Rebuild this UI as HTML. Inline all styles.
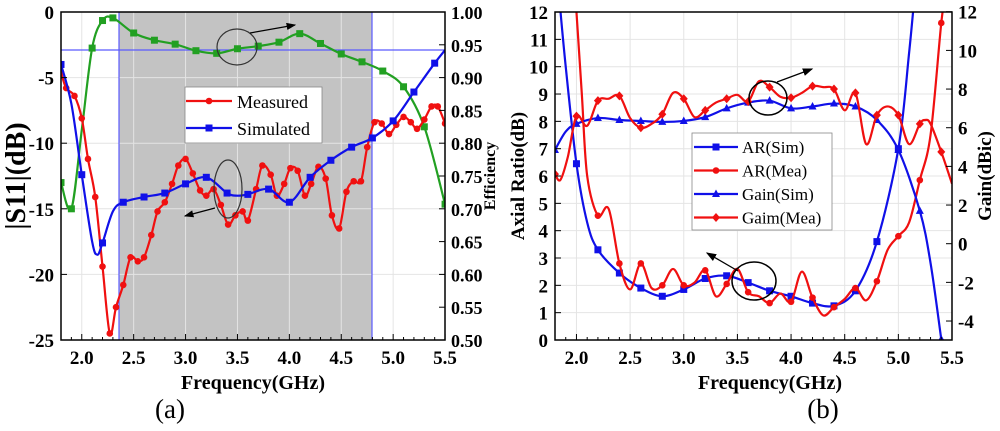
<!DOCTYPE html>
<html><head><meta charset="utf-8"><style>
html,body{margin:0;padding:0;background:#fff}
svg{display:block}
text{font-family:"Liberation Serif",serif}
</style></head><body>
<svg id="s" width="1000" height="431" viewBox="0 0 1000 431" xmlns="http://www.w3.org/2000/svg">
<defs>
<clipPath id="cl"><rect x="61" y="12" width="384" height="328"/></clipPath>
<clipPath id="cr"><rect x="555" y="12" width="397" height="328"/></clipPath>
<marker id="ah" markerWidth="8" markerHeight="6" refX="7" refY="3" orient="auto"><path d="M0,0L8,3L0,6z" fill="#000"/></marker>
</defs>
<g id="g"></g>
</svg>
<script>
var NS="http://www.w3.org/2000/svg",G=document.getElementById('g');
function el(t,a,p,txt){var e=document.createElementNS(NS,t);for(var k in a)e.setAttribute(k,a[k]);if(txt!=null)e.textContent=txt;(p||G).appendChild(e);return e;}
function smooth(P){var d="M"+P[0][0]+","+P[0][1];for(var i=0;i<P.length-1;i++){var p0=P[i-1]||P[i],p1=P[i],p2=P[i+1],p3=P[i+2]||p2;var c1x=p1[0]+(p2[0]-p0[0])/6,c1y=p1[1]+(p2[1]-p0[1])/6,c2x=p2[0]-(p3[0]-p1[0])/6,c2y=p2[1]-(p3[1]-p1[1])/6;d+="C"+c1x+","+c1y+" "+c2x+","+c2y+" "+p2[0]+","+p2[1];}return d;}
function mark(type,x,y,c,g){if(type=='sq')el('rect',{x:x-3.5,y:y-3.5,width:7,height:7,fill:c},g);else if(type=='ci')el('circle',{cx:x,cy:y,r:3.3,fill:c},g);else if(type=='tr')el('path',{d:'M'+x+','+(y-4.5)+'L'+(x+4)+','+(y+3)+'L'+(x-4)+','+(y+3)+'z',fill:c},g);else el('path',{d:'M'+x+','+(y-4.5)+'L'+(x+4)+','+y+'L'+x+','+(y+4.5)+'L'+(x-4)+','+y+'z',fill:c},g);}
function series(data,fx,fy,c,m,clip,every){var g=el('g',{'clip-path':'url(#'+clip+')'});var P=data.map(function(d){return[fx(d[0]),fy(d[1])]});el('path',{d:smooth(P),fill:'none',stroke:c,'stroke-width':2.2},g);P.forEach(function(p,i){if(!every||every(data[i][0]))mark(m,p[0],p[1],c,g);});}
function tx(x,y,s,size,anchor,bold,rot){var a={x:x,y:y,'font-size':size,'text-anchor':anchor||'middle','font-weight':bold?'bold':'normal',fill:'#000'};if(rot)a.transform='rotate(-90 '+x+' '+y+')';el('text',a,null,s);}
function ev(f){var k=Math.round(f*10);return Math.abs(f*10-k)<0.01&&k%2==0;}

/* ---------- LEFT ---------- */
var LX=function(f){return 61+(f-1.8)*103.8},LY=function(v){return 12-v*13.12},LE=function(e){return 12+(1-e)*656};
el('rect',{x:119,y:12,width:253,height:328,fill:'#c3c3c3'});
for(var f=2;f<=5.5;f+=0.5){el('line',{x1:LX(f),x2:LX(f),y1:12,y2:340,stroke:'#e4e4e4','stroke-width':1});}
for(var v=-5;v>=-20;v-=5){el('line',{x1:61,x2:445,y1:LY(v),y2:LY(v),stroke:'#e4e4e4','stroke-width':1});}
el('line',{x1:119,x2:119,y1:12,y2:340,stroke:'#5a5aff','stroke-width':1.2});
el('line',{x1:372,x2:372,y1:12,y2:340,stroke:'#5a5aff','stroke-width':1.2});
el('line',{x1:61,x2:445,y1:50,y2:50,stroke:'#5a5aff','stroke-width':1.2});
var green=[[1.8,.74],[1.9,.70],[2.0,.82],[2.1,.945],[2.2,.987],[2.3,.991],[2.5,.968],[2.7,.957],[2.9,.951],[3.1,.941],[3.3,.937],[3.5,.944],[3.7,.948],[3.9,.954],[4.1,.967],[4.3,.952],[4.5,.936],[4.7,.924],[4.9,.910],[5.1,.886],[5.3,.825],[5.5,.707]];
series(green,LX,LE,'#22a022','sq','cl',function(f){return Math.abs(f-2.0)>0.01});
var meas=[[1.8,-4.6],[1.85,-5.8],[1.93,-6.4],[2.0,-8.1],[2.06,-11.2],[2.13,-14.1],[2.2,-19.4],[2.27,-24.5],[2.33,-22.5],[2.4,-20.8],[2.47,-18.7],[2.54,-19],[2.6,-18.7],[2.67,-17],[2.73,-15.2],[2.8,-14.5],[2.87,-13.1],[2.93,-11.7],[3.0,-11.2],[3.07,-12.3],[3.14,-13.6],[3.2,-14],[3.27,-13.5],[3.34,-14.7],[3.41,-16.2],[3.48,-15.5],[3.55,-15.2],[3.6,-15.9],[3.68,-13.5],[3.74,-11.7],[3.82,-12.4],[3.88,-14],[3.95,-13.1],[4.01,-11.9],[4.08,-12.1],[4.15,-14],[4.21,-13.1],[4.28,-11.8],[4.35,-12.7],[4.41,-15.5],[4.48,-16.5],[4.55,-13.7],[4.62,-12.9],[4.69,-12.9],[4.75,-10.3],[4.82,-8.4],[4.89,-8.5],[4.96,-9.3],[5.03,-8.6],[5.1,-8],[5.17,-8.4],[5.23,-8.9],[5.3,-8.2],[5.37,-7.2],[5.43,-7.2],[5.5,-8.5]];
series(meas,LX,LY,'#f01010','ci','cl');
var sim=[[1.8,-4],[1.9,-7],[2.0,-12.4],[2.1,-17.5],[2.15,-18.5],[2.2,-17.6],[2.3,-15.2],[2.4,-14.5],[2.6,-14.1],[2.8,-13.8],[3.0,-13.1],[3.2,-12.6],[3.4,-13.8],[3.5,-14],[3.6,-13.9],[3.8,-13.5],[4.0,-14.5],[4.2,-12.6],[4.4,-11.3],[4.6,-10.3],[4.8,-9.6],[5.0,-8.3],[5.2,-6.1],[5.4,-3.9],[5.5,-2.9]];
series(sim,LX,LY,'#1010e8','sq','cl',ev);
el('rect',{x:61,y:12,width:384,height:328,fill:'none',stroke:'#000','stroke-width':1.5});
for(var f=1.8;f<=5.51;f+=0.1){var x=LX(f),maj=Math.abs(f*2-Math.round(f*2))<0.01;el('line',{x1:x,x2:x,y1:340,y2:340-(maj?6:3),stroke:'#000'});}
[2,2.5,3,3.5,4,4.5,5,5.5].forEach(function(f){tx(LX(f),364,f.toFixed(1),19,'middle',true);});
[0,-5,-10,-15,-20,-25].forEach(function(v){tx(54,LY(v)+7,v,19,'end',true);el('line',{x1:61,x2:67,y1:LY(v),y2:LY(v),stroke:'#000'});});
for(var e=0.5;e<=1.001;e+=0.05){tx(451,LE(e)+7,e.toFixed(2),18,'start',true);el('line',{x1:439,x2:445,y1:LE(e),y2:LE(e),stroke:'#000'});}
tx(25,176,'|S11|(dB)',28,'middle',true,true);
tx(495,176,'Efficiency',16,'middle',true,true);
tx(253,389,'Frequency(GHz)',20,'middle',true);
tx(170,418,'(a)',27,'middle',false);
el('rect',{x:185,y:87,width:137,height:56,fill:'#fff',stroke:'#888','stroke-width':0.8});
el('line',{x1:186,x2:232,y1:101,y2:101,stroke:'#f01010','stroke-width':2.2});mark('ci',209,101,'#f01010');
el('line',{x1:186,x2:232,y1:128,y2:128,stroke:'#1010e8','stroke-width':2.2});mark('sq',209,128,'#1010e8');
tx(237,108,'Measured',18,'start');tx(237,135,'Simulated',18,'start');
el('ellipse',{cx:237,cy:47,rx:20,ry:18,fill:'none',stroke:'#333','stroke-width':1.2});
el('line',{x1:250,y1:33,x2:295,y2:25,stroke:'#000','stroke-width':1.2,'marker-end':'url(#ah)'});
el('ellipse',{cx:228,cy:189,rx:14,ry:29,fill:'none',stroke:'#333','stroke-width':1.2});
el('line',{x1:215,y1:208,x2:185,y2:216,stroke:'#000','stroke-width':1.2,'marker-end':'url(#ah)'});

/* ---------- RIGHT ---------- */
var RX=function(f){return 555+(f-1.8)*107.3},RY=function(v){return 340-v*27.33},RG=function(g){return 243.7-g*19.33};
for(var f=2;f<=5.5;f+=0.5){el('line',{x1:RX(f),x2:RX(f),y1:12,y2:340,stroke:'#e4e4e4'});}
for(var v=1;v<12;v++){el('line',{x1:555,x2:952,y1:RY(v),y2:RY(v),stroke:'#e4e4e4'});}
var ars=[[1.84,12.5],[1.9,10],[2.0,6.45],[2.1,4.3],[2.2,3.3],[2.4,2.45],[2.6,1.9],[2.8,1.6],[3.0,1.85],[3.2,2.25],[3.4,2.35],[3.6,2.1],[3.8,1.8],[4.0,1.6],[4.2,1.35],[4.4,1.25],[4.6,1.8],[4.8,3.6],[5.0,7.0],[5.1,10.5],[5.16,13]];
series(ars,RX,RY,'#1010e8','sq','cr',function(f){return ev(f)&&f<5.05});
var arm=[[1.98,13],[2.0,12],[2.05,9],[2.1,6],[2.2,4.55],[2.3,4.8],[2.4,2.8],[2.5,1.85],[2.6,2.8],[2.7,1.9],[2.8,2.0],[2.9,2.6],[3.0,2.0],[3.1,2.1],[3.2,2.55],[3.3,1.6],[3.4,2.05],[3.5,2.6],[3.6,1.75],[3.7,1.6],[3.8,1.35],[3.9,1.7],[4.0,1.4],[4.1,2.5],[4.2,1.55],[4.3,0.9],[4.4,1.2],[4.5,1.5],[4.6,1.9],[4.7,1.45],[4.8,2.15],[4.9,3.3],[5.0,3.8],[5.1,4.3],[5.2,5.85],[5.3,7.5],[5.4,11.6],[5.45,13]];
series(arm,RX,RY,'#f01010','ci','cr',function(f){return ev(f)&&f>2.15});
var gs=[[1.8,4.85],[1.9,5.8],[2.0,6.2],[2.2,6.5],[2.4,6.4],[2.6,6.35],[2.8,6.3],[3.0,6.35],[3.2,6.55],[3.4,7.0],[3.6,7.3],[3.8,7.4],[4.0,7.0],[4.2,7.1],[4.4,7.25],[4.6,7.1],[4.8,6.4],[5.0,4.85],[5.2,1.7],[5.3,-1],[5.4,-4.95],[5.45,-7]];
series(gs,RX,RG,'#1010e8','tr','cr',function(f){return ev(f)&&f<5.41});
var gm=[[1.8,3.6],[1.85,3.3],[1.92,4.5],[2.0,6.6],[2.1,6.1],[2.2,7.4],[2.3,7.5],[2.4,7.65],[2.5,6.5],[2.6,6.0],[2.7,6.2],[2.8,6.7],[2.9,7.8],[3.0,7.5],[3.1,6.55],[3.2,6.9],[3.3,7.3],[3.4,7.5],[3.5,7.7],[3.6,7.35],[3.7,8.4],[3.8,8.1],[3.9,7.6],[4.0,7.55],[4.1,7.8],[4.2,8.15],[4.3,8.1],[4.4,8.0],[4.5,6.9],[4.6,7.8],[4.7,5.15],[4.8,6.65],[4.9,7.1],[5.0,6.65],[5.1,5.15],[5.2,6.2],[5.25,6.4],[5.3,6.2],[5.4,4.75],[5.5,3.1]];
series(gm,RX,RG,'#f01010','di','cr',ev);
el('rect',{x:555,y:12,width:397,height:328,fill:'none',stroke:'#000','stroke-width':1.5});
for(var f=1.8;f<=5.51;f+=0.1){var x=RX(f),maj=Math.abs(f*2-Math.round(f*2))<0.01;el('line',{x1:x,x2:x,y1:340,y2:340-(maj?6:3),stroke:'#000'});}
[2,2.5,3,3.5,4,4.5,5,5.5].forEach(function(f){tx(RX(f),364,f.toFixed(1),19,'middle',true);});
for(var v=0;v<=12;v++){tx(548,RY(v)+7,v,19,'end',true);el('line',{x1:555,x2:561,y1:RY(v),y2:RY(v),stroke:'#000'});}
for(var g=-4;g<=12;g+=2){tx(958,RG(g)+7,g,19,'start',true);el('line',{x1:946,x2:952,y1:RG(g),y2:RG(g),stroke:'#000'});}
tx(524,176,'Axial Ratio(dB)',19,'middle',true,true);
tx(991,176,'Gain(dBic)',19,'middle',true,true);
tx(770,389,'Frequency(GHz)',20,'middle',true);
tx(823,418,'(b)',27,'middle',false);
el('rect',{x:692,y:133,width:140,height:97,fill:'#fff',stroke:'#888','stroke-width':0.8});
var L=[['AR(Sim)','#1010e8','sq'],['AR(Mea)','#f01010','ci'],['Gain(Sim)','#1010e8','tr'],['Gaim(Mea)','#f01010','di']];
L.forEach(function(l,i){var y=147+i*23.5;el('line',{x1:694,x2:738,y1:y,y2:y,stroke:l[1],'stroke-width':2.2});mark(l[2],716,y,l[1]);tx(742,y+6,l[0],17,'start');});
el('ellipse',{cx:768,cy:98,rx:19,ry:17,fill:'none',stroke:'#000','stroke-width':1.5});
el('line',{x1:777,y1:82,x2:812,y2:69,stroke:'#000','stroke-width':1.3,'marker-end':'url(#ah)'});
el('ellipse',{cx:754,cy:281,rx:22,ry:19,fill:'none',stroke:'#000','stroke-width':1.5});
el('line',{x1:738,y1:271,x2:707,y2:253,stroke:'#000','stroke-width':1.3,'marker-end':'url(#ah)'});
</script>
</body></html>
